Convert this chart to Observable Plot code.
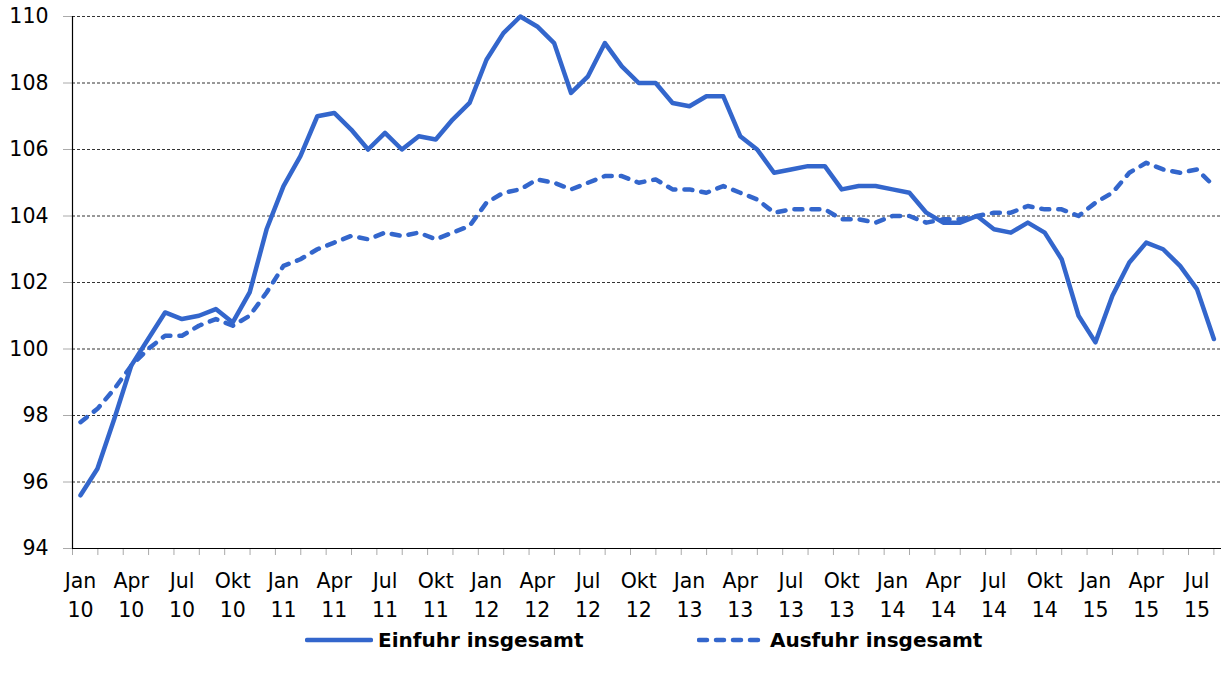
<!DOCTYPE html>
<html>
<head>
<meta charset="utf-8">
<script src="https://cdn.jsdelivr.net/npm/d3@7"></script>
<script src="https://cdn.jsdelivr.net/npm/@observablehq/plot@0.6"></script>
<style>
  html, body { margin: 0; padding: 0; background: #fff; }
  body { font-family: "DejaVu Sans", sans-serif; width: 1221px; }
  #legend { position: relative; height: 56px; }
  .item { position: absolute; top: -2px; display: flex; align-items: center; font-weight: bold; font-size: 20px; color: #000; white-space: nowrap; }
  .item svg { margin-right: 5px; }
</style>
</head>
<body>
<div id="chart"></div>
<div id="legend"></div>
<script>
// ---- data ----
const seriesNames = ["Einfuhr insgesamt", "Ausfuhr insgesamt"];
const einfuhr = [95.6, 96.4, 97.9, 99.5, 100.3, 101.1, 100.9, 101.0, 101.2, 100.8, 101.7, 103.6,
  104.9, 105.8, 107.0, 107.1, 106.6, 106.0, 106.5, 106.0, 106.4, 106.3, 106.9, 107.4,
  108.7, 109.5, 110.0, 109.7, 109.2, 107.7, 108.2, 109.2, 108.5, 108.0, 108.0, 107.4,
  107.3, 107.6, 107.6, 106.4, 106.0, 105.3, 105.4, 105.5, 105.5, 104.8, 104.9, 104.9,
  104.8, 104.7, 104.1, 103.8, 103.8, 104.0, 103.6, 103.5, 103.8, 103.5, 102.7, 101.0,
  100.2, 101.6, 102.6, 103.2, 103.0, 102.5, 101.8, 100.3];
const ausfuhr = [97.8, 98.2, 98.8, 99.5, 100.0, 100.4, 100.4, 100.7, 100.9, 100.7, 101.0, 101.7,
  102.5, 102.7, 103.0, 103.2, 103.4, 103.3, 103.5, 103.4, 103.5, 103.3, 103.5, 103.7,
  104.4, 104.7, 104.8, 105.1, 105.0, 104.8, 105.0, 105.2, 105.2, 105.0, 105.1, 104.8,
  104.8, 104.7, 104.9, 104.7, 104.5, 104.1, 104.2, 104.2, 104.2, 103.9, 103.9, 103.8,
  104.0, 104.0, 103.8, 103.9, 103.9, 104.0, 104.1, 104.1, 104.3, 104.2, 104.2, 104.0,
  104.4, 104.7, 105.3, 105.6, 105.4, 105.3, 105.4, 104.9];
const xTickLabels = ["Jan\n10","Apr\n10","Jul\n10","Okt\n10","Jan\n11","Apr\n11","Jul\n11","Okt\n11",
  "Jan\n12","Apr\n12","Jul\n12","Okt\n12","Jan\n13","Apr\n13","Jul\n13","Okt\n13",
  "Jan\n14","Apr\n14","Jul\n14","Okt\n14","Jan\n15","Apr\n15","Jul\n15"];
const xLabelMonths = xTickLabels.map((_, i) => i * 3);
const yTicks = [94, 96, 98, 100, 102, 104, 106, 108, 110];
const yGrid = [96, 98, 100, 102, 104, 106, 108, 110];

// ---- setup ----
const FONT = '"DejaVu Sans", sans-serif';
const BLUE = "#3366cc";
const X0 = -0.473, X1 = 67.45;
const xMinorTicks = d3.range(46).map(k => X0 + k * (67 - X0) / 45);

const rowsE = einfuhr.map((v, m) => ({m, v}));
const rowsA = ausfuhr.map((v, m) => ({m, v}));
const xLabelRows = xLabelMonths.map((m, i) => ({m, label: xTickLabels[i]}));

const chart = Plot.plot({
  width: 1221,
  height: 630,
  marginLeft: 72,
  marginRight: 0,
  marginTop: 16,
  marginBottom: 82,
  x: {domain: [X0, X1]},
  y: {domain: [94, 110]},
  style: {fontFamily: FONT, fontSize: "20px", color: "#000", background: "#fff", overflow: "visible"},
  marks: [
    Plot.ruleY(yGrid, {stroke: "#333", strokeWidth: 1, strokeDasharray: "3,2"}),
    Plot.axisY({ticks: yTicks, tickSize: 9, stroke: "#aaa", tickFormat: () => "", label: null}),
    Plot.axisX({ticks: xMinorTicks, tickSize: 7, stroke: "#aaa", tickFormat: () => "", label: null}),
    Plot.text(yTicks, {x: X0, y: d => d, text: d => String(d), textAnchor: "end", dx: -24, fill: "#000", fontSize: 20.5}),
    Plot.text(xLabelRows, {x: "m", y: 94, text: "label", lineAnchor: "top", dy: 19, lineHeight: 1.42, fill: "#000", fontSize: 20.5}),
    Plot.ruleY([94], {stroke: "#000", strokeWidth: 1.2}),
    Plot.ruleX([X0], {stroke: "#000", strokeWidth: 1.2}),
    Plot.line(rowsA, {x: "m", y: "v", stroke: BLUE, strokeWidth: 4.5, strokeDasharray: "8,9", strokeLinecap: "round", strokeLinejoin: "round"}),
    Plot.line(rowsE, {x: "m", y: "v", stroke: BLUE, strokeWidth: 4.5, strokeLinecap: "round", strokeLinejoin: "round"})
  ]
});
document.getElementById("chart").append(chart);

// ---- legend ----
const legend = document.getElementById("legend");
const items = [
  {name: seriesNames[0], left: 305, dash: null},
  {name: seriesNames[1], left: 697, dash: "8,9"}
];
for (const it of items) {
  const div = document.createElement("div");
  div.className = "item";
  div.style.left = it.left + "px";
  div.innerHTML = `<svg width="68" height="10"><line x1="2" y1="5" x2="66" y2="5" stroke="${BLUE}" stroke-width="4.5" stroke-linecap="round" ${it.dash ? `stroke-dasharray="${it.dash}"` : ""}/></svg><span>${it.name}</span>`;
  legend.append(div);
}
</script>
</body>
</html>
